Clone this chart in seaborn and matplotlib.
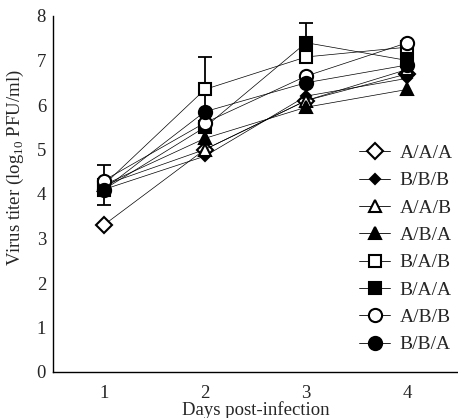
import matplotlib
matplotlib.use("Agg")
import matplotlib.pyplot as plt
import seaborn as sns
import numpy as np

days = [1, 2, 3, 4]
series_names = ["A/A/A", "B/B/B", "A/A/B", "A/B/A", "B/A/B", "B/A/A", "A/B/B", "B/B/A"]
aaa = [3.3, 5.0, 6.1, 6.7]
bbb = [4.1, 4.85, 6.2, 6.6]
aab = [4.2, 5.0, 6.1, 6.8]
aba = [4.2, 5.25, 5.95, 6.35]
bab = [4.2, 6.35, 7.08, 7.3]
baa = [4.1, 5.5, 7.4, 7.0]
abb = [4.3, 5.6, 6.65, 7.4]
bba = [4.1, 5.85, 6.5, 6.9]
values = [aaa, bbb, aab, aba, bab, baa, abb, bba]

markers = ["D", "D", "^", "^", "s", "s", "o", "o"]
filled = [False, True, False, True, False, True, False, True]
msizes = [8, 5.5, 9, 9, 8.5, 8.5, 9.5, 9.5]

# error bars (day, value, error)
err_day = [1, 2, 3]
err_val = [4.2, 6.35, 7.4]
err_up = [0.45, 0.72, 0.45]

sns.set_style("white")
plt.rcParams["font.family"] = ["Liberation Serif", "DejaVu Serif"]
plt.rcParams["mathtext.fontset"] = "custom"
plt.rcParams["mathtext.rm"] = "Liberation Serif"

fig = plt.figure(figsize=(4.58, 4.18), dpi=100)
ax = fig.add_axes([53/458, 46/418, 405/458, 356/418])

for d, v, e in zip(err_day, err_val, err_up):
    ax.errorbar([d], [v], yerr=[[e], [e]], fmt="none", ecolor="black",
                elinewidth=1.3, capsize=5, capthick=1.3, zorder=1)

for name, vals, m, f, ms in zip(series_names, values, markers, filled, msizes):
    sns.lineplot(x=days, y=vals, ax=ax, color="black", lw=0.5, marker=m,
                 markersize=ms, markerfacecolor=("black" if f else "white"),
                 markeredgecolor="black", markeredgewidth=1.5, label=name,
                 zorder=3)

ax.set_xlim(0.5, 4.5)
ax.set_ylim(0, 8)
ax.set_xticks(days)
ax.set_xticklabels([str(d) for d in days])
ax.set_xticks([1.5, 2.5, 3.5], minor=True)
ax.tick_params(axis="x", which="major", length=0, labelsize=13.5, pad=9)
ax.tick_params(axis="x", which="minor", direction="in", length=4, width=1)
ax.set_yticks(range(0, 9))
ax.tick_params(axis="y", direction="in", length=3, width=1, labelsize=13.5, pad=5)
for s in ["top", "right"]:
    ax.spines[s].set_visible(False)
for s in ["left", "bottom"]:
    ax.spines[s].set_color("black")
    ax.spines[s].set_linewidth(1)

ax.set_xlabel("Days post-infection", fontsize=13.5, labelpad=0)
ax.set_ylabel(r"Virus titer (log$_{\mathrm{10}}$ PFU/ml)", fontsize=13.5)
ax.yaxis.set_label_coords(-0.067, 0.573)

leg = ax.legend(loc="center left", bbox_to_anchor=(359/458, 1 - 249/418),
                bbox_transform=fig.transFigure, frameon=False,
                fontsize=14, handlelength=1.6, labelspacing=0.5, handletextpad=0.5,
                borderpad=0, borderaxespad=0)
for line in leg.get_lines():
    line.set_linewidth(0.6)

fig.savefig("out.png", dpi=100)
